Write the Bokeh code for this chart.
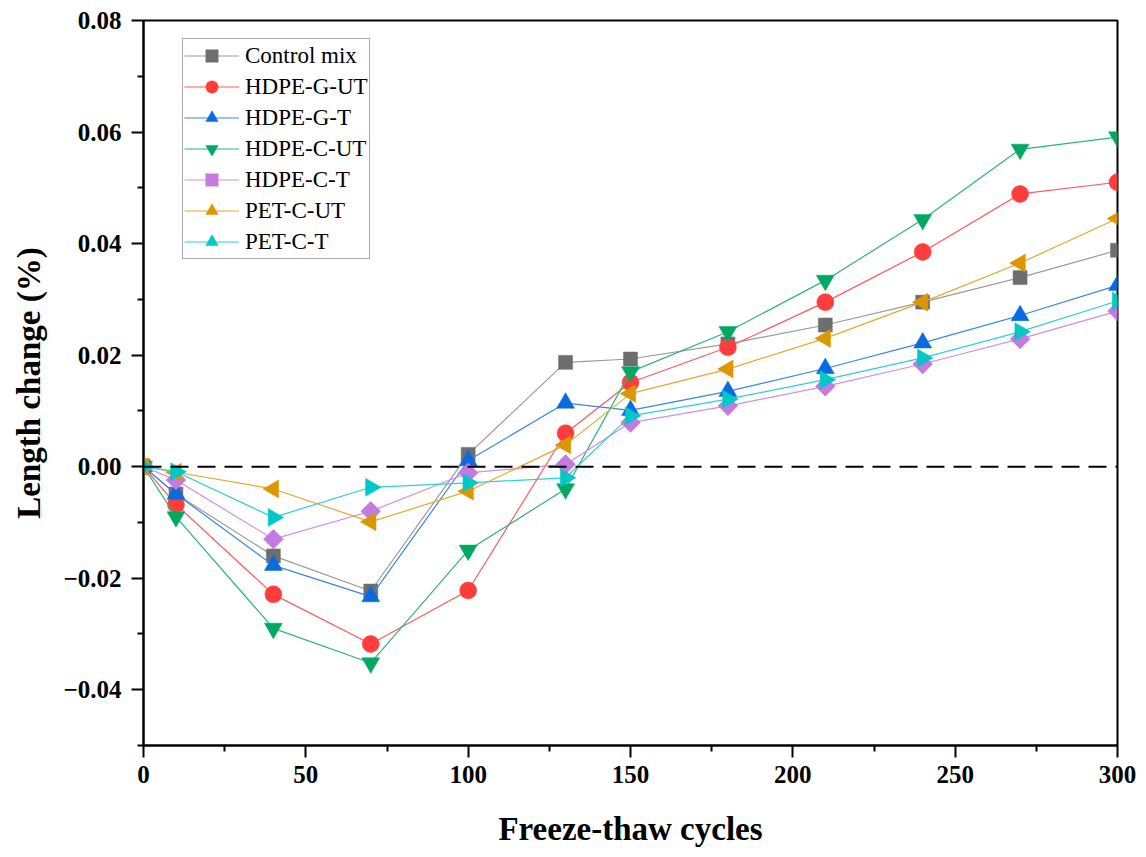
import numpy as np
from bokeh.plotting import figure
from bokeh.models import Span, Legend, LegendItem, FixedTicker, CustomJSTickFormatter, Range1d
from bokeh.embed import file_html
from bokeh.resources import INLINE

# ---- data ----
cycles = [0, 10, 40, 70, 100, 130, 150, 180, 210, 240, 270, 300]
control_mix = [0, -0.0049, -0.0160, -0.0223, 0.0022, 0.0187, 0.0193, 0.0220, 0.0254, 0.0295, 0.0339, 0.0388]
hdpe_g_ut = [0, -0.0068, -0.0229, -0.0318, -0.0222, 0.0060, 0.0151, 0.0214, 0.0295, 0.0385, 0.0489, 0.0510]
hdpe_g_t = [0, -0.0049, -0.0177, -0.0233, 0.0011, 0.0114, 0.0101, 0.0135, 0.0176, 0.0222, 0.0271, 0.0325]
hdpe_c_ut = [0, -0.0090, -0.0290, -0.0352, -0.0150, -0.0040, 0.0170, 0.0242, 0.0334, 0.0443, 0.0569, 0.0591]
hdpe_c_t = [0, -0.0024, -0.0130, -0.0080, -0.0011, 0.0004, 0.0079, 0.0109, 0.0144, 0.0184, 0.0229, 0.0279]
pet_c_ut = [0, -0.0010, -0.0040, -0.0099, -0.0044, 0.0039, 0.0131, 0.0175, 0.0230, 0.0295, 0.0365, 0.0445]
pet_c_t = [0, -0.0009, -0.0091, -0.0037, -0.0029, -0.0020, 0.0091, 0.0121, 0.0156, 0.0195, 0.0242, 0.0297]

labels = ["Control mix", "HDPE-G-UT", "HDPE-G-T", "HDPE-C-UT", "HDPE-C-T", "PET-C-UT", "PET-C-T"]
series = [control_mix, hdpe_g_ut, hdpe_g_t, hdpe_c_ut, hdpe_c_t, pet_c_ut, pet_c_t]

x_ticks = [0, 50, 100, 150, 200, 250, 300]
x_minor = [25, 75, 125, 175, 225, 275]
y_ticks = [-0.04, -0.02, 0.0, 0.02, 0.04, 0.06, 0.08]
y_minor = [-0.05, -0.03, -0.01, 0.01, 0.03, 0.05, 0.07]

marker_colors = ["#6e6e6e", "#ff3d3d", "#0a6be0", "#00a862", "#c47ade", "#dc9700", "#00c8c8"]
line_colors = ["#9a9a9a", "#ff5a5a", "#3a86e8", "#2db57a", "#d08ee6", "#e6a830", "#30d0d0"]
markers = ["square", "circle", "triangle", "inverted_triangle", "square", "triangle", "triangle"]
sizes = [14, 17, 18, 18, 14, 18, 18]
angles = [0, 0, 0, 0, np.pi / 4, np.pi / 2, -np.pi / 2]

FONT = "Liberation Serif"

p = figure(frame_width=974, frame_height=725, output_backend="svg", toolbar_location=None,
           x_range=Range1d(0, 300), y_range=Range1d(-0.05, 0.08),
           min_border_left=143, min_border_right=21, min_border_top=20, min_border_bottom=104)

p.xgrid.visible = False
p.ygrid.visible = False
p.outline_line_color = "black"
p.outline_line_width = 2
p.outline_line_alpha = 1

for ax in (p.xaxis[0], p.yaxis[0]):
    ax.axis_line_width = 2
    ax.major_tick_line_width = 2
    ax.minor_tick_line_width = 2
    ax.major_tick_in = 0
    ax.major_tick_out = 12
    ax.minor_tick_in = 0
    ax.minor_tick_out = 6
    ax.major_label_text_font = FONT
    ax.major_label_text_font_style = "bold"
    ax.major_label_text_font_size = "25px"
    ax.major_label_text_color = "black"
    ax.axis_label_text_font = FONT
    ax.axis_label_text_font_style = "bold"
    ax.axis_label_text_font_size = "33px"
    ax.axis_label_text_color = "black"

p.xaxis.major_label_standoff = 8
p.yaxis.major_label_standoff = 10
p.xaxis.ticker = FixedTicker(ticks=x_ticks, minor_ticks=x_minor)
p.yaxis.ticker = FixedTicker(ticks=y_ticks, minor_ticks=y_minor)
p.yaxis.formatter = CustomJSTickFormatter(code="return tick.toFixed(2).replace('-', '\u2212');")
p.xaxis.axis_label = "Freeze-thaw cycles"
p.yaxis.axis_label = "Length change (%)"
p.xaxis.axis_label_standoff = 25
p.yaxis.axis_label_standoff = 14

p.add_layout(Span(location=0, dimension="width", line_color="black", line_width=2, line_dash="18 9"))

items = []
for lab, ys, mc, lc, mk, sz, ang in zip(labels, series, marker_colors, line_colors, markers, sizes, angles):
    ln = p.line(cycles, ys, line_color=lc, line_width=1.2)
    sc = p.scatter(cycles, ys, marker=mk, size=sz, angle=ang, fill_color=mc, line_color=mc, line_width=0.5)
    items.append(LegendItem(label=lab, renderers=[ln, sc]))

legend = Legend(items=items, location=(39, 486))
legend.label_text_font = FONT
legend.label_text_font_size = "23px"
legend.label_text_color = "black"
legend.glyph_width = 55
legend.glyph_height = 31
legend.label_height = 24
legend.spacing = 0
legend.padding = 1
legend.margin = 0
legend.label_standoff = 6
legend.border_line_color = "#555555"
legend.border_line_width = 1
legend.background_fill_alpha = 1
p.add_layout(legend)

open("out.html", "w").write(file_html(p, INLINE))
